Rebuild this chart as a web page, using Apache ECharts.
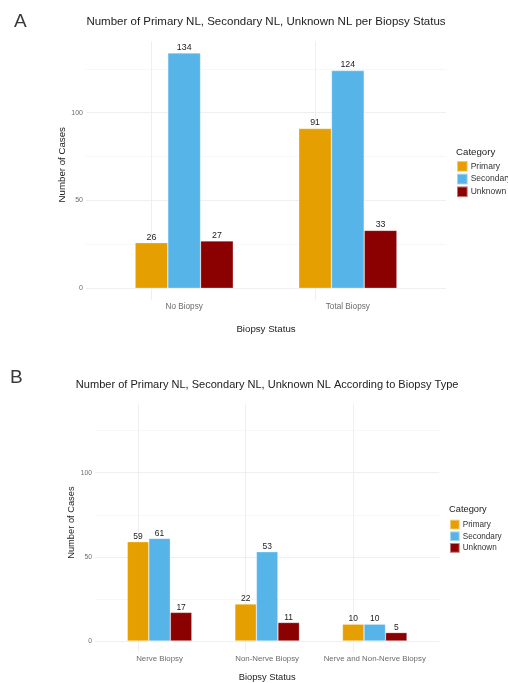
<!DOCTYPE html>
<html>
<head>
<meta charset="utf-8">
<script src="https://cdn.jsdelivr.net/npm/echarts@6/dist/echarts.min.js"></script>
<style>
  html, body { margin: 0; padding: 0; background: #ffffff; }
  #chart { width: 508px; height: 683px; }
</style>
</head>
<body>
<div id="chart"></div>
<script>
// ---- data ----
const seriesNames = ['Primary', 'Secondary', 'Unknown'];
const statusCategories = ['No Biopsy', 'Total Biopsy'];
const statusPrimary = [26, 91];
const statusSecondary = [134, 124];
const statusUnknown = [27, 33];
const typeCategories = ['Nerve Biopsy', 'Non-Nerve Biopsy', 'Nerve and Non-Nerve Biopsy'];
const typePrimary = [59, 22, 10];
const typeSecondary = [61, 53, 10];
const typeUnknown = [17, 11, 5];
const yTickStep = 25;
const yLabelStep = 50;

// ---- styling ----
const colors = { Primary: '#E69F00', Secondary: '#56B4E9', Unknown: '#8B0000' };
const FONT = 'Liberation Sans, Arial, Helvetica, sans-serif';
const majorGrid = '#ebebeb';
const minorGrid = '#f5f5f5';

// Shared y range: data max plus 5% headroom above and below zero.
const allValues = [].concat(statusPrimary, statusSecondary, statusUnknown, typePrimary, typeSecondary, typeUnknown);
const yMax = Math.max.apply(null, allValues) * 1.05;
const yPad = Math.max.apply(null, allValues) * 0.05;

// Panel geometry: plot rectangle in pixels, the zero line and a text scale.
const panels = [
  { cats: statusCategories, vals: [statusPrimary, statusSecondary, statusUnknown],
    left: 86, right: 446, zeroY: 288.3, pxPerUnit: 1.756, fs: 1,
    tag: 'A', tagX: 14, tagY: 12, title: 'Number of Primary NL, Secondary NL, Unknown NL per Biopsy Status', titleY: 16,
    legendX: 456, legendTitleY: 147, legendY: 160, keySize: 10.7, xNameGap: 24, yNameGap: 19 },
  { cats: typeCategories, vals: [typePrimary, typeSecondary, typeUnknown],
    left: 95, right: 439.3, zeroY: 641, pxPerUnit: 1.683, fs: 0.96,
    tag: 'B', tagX: 10, tagY: 368, title: 'Number of Primary NL, Secondary NL, Unknown NL According to Biopsy Type', titleY: 379,
    legendX: 449, legendTitleY: 505, legendY: 518.7, keySize: 9.7, xNameGap: 21, yNameGap: 19 }
];

const grid = [], xAxis = [], yAxis = [], series = [], title = [], legend = [];

panels.forEach(function (p, pi) {
  const n = p.cats.length;
  const unit = (p.right - p.left) / (n + 0.2);       // discrete scale with 0.6 expansion on each side
  const top = p.zeroY - yMax * p.pxPerUnit;
  const bottom = p.zeroY + yPad * p.pxPerUnit;
  const f = function (size) { return size * p.fs; };
  const wideIdx = grid.length;
  // wide grid: horizontal gridlines and y tick labels
  grid.push({ left: p.left, width: p.right - p.left, top: top, height: p.zeroY - top,
    containLabel: false, outerBoundsMode: 'none' });
  // narrow grid: bars, aligned so category centres fall at the dodge positions
  const narrowIdx = grid.length;
  grid.push({ left: p.left + 0.1 * unit, width: n * unit, top: top, height: bottom - top,
    containLabel: false, outerBoundsMode: 'none' });

  xAxis.push({ gridIndex: wideIdx, type: 'value', show: false, min: 0, max: 1 });
  yAxis.push({
    gridIndex: wideIdx, type: 'value', min: 0, max: yMax, interval: yTickStep,
    axisLine: { show: false }, axisTick: { show: false },
    axisLabel: {
      showMaxLabel: false, margin: 3, color: '#6b6b6b', fontFamily: FONT, fontSize: f(7),
      formatter: function (v) { return v % yLabelStep === 0 ? String(v) : ''; }
    },
    splitLine: { show: true, showMaxLine: false, lineStyle: { color: [majorGrid, minorGrid], width: 0.8 } },
    name: 'Number of Cases', nameLocation: 'middle', nameRotate: 90, nameGap: p.yNameGap,
    nameMoveOverlap: false,
    nameTextStyle: { color: '#222', fontFamily: FONT, fontSize: f(9.7) }
  });

  xAxis.push({
    gridIndex: narrowIdx, type: 'category', data: p.cats, boundaryGap: true,
    axisLine: { show: false }, axisTick: { show: false }, splitLine: { show: false },
    axisLabel: { margin: 3, color: '#6b6b6b', fontFamily: FONT, fontSize: f(8.2), interval: 0 },
    name: 'Biopsy Status', nameLocation: 'middle', nameGap: p.xNameGap,
    nameMoveOverlap: false,
    nameTextStyle: { color: '#222', fontFamily: FONT, fontSize: f(9.7) }
  });
  yAxis.push({ gridIndex: narrowIdx, type: 'value', show: false, min: -yPad, max: yMax,
    splitLine: { show: false } });

  seriesNames.forEach(function (name, si) {
    const s = {
      type: 'bar', name: name,
      xAxisIndex: narrowIdx, yAxisIndex: narrowIdx,
      data: p.vals[si], barWidth: 0.2 * unit, barGap: '0%',
      itemStyle: { color: colors[name], borderColor: 'rgba(255,255,255,0.45)', borderWidth: 0.6 },
      label: { show: true, position: 'top', distance: 1, color: '#222', fontFamily: FONT, fontSize: f(8.8) },
      emphasis: { disabled: true }
    };
    if (si === 0) {
      // vertical gridlines through each category centre, behind the bars
      s.markLine = {
        silent: true, symbol: 'none', z: 1, animation: false,
        label: { show: false },
        lineStyle: { color: majorGrid, type: 'solid', width: 0.8 },
        data: p.cats.map(function (c) { return { xAxis: c }; })
      };
    }
    series.push(s);
  });

  title.push({ text: p.tag, left: p.tagX, top: p.tagY, padding: 0,
    textStyle: { fontFamily: FONT, fontSize: 19, fontWeight: 'normal', color: '#3a3a3a' } });
  title.push({ text: p.title, left: (p.left + p.right) / 2, top: p.titleY, textAlign: 'center', padding: 0,
    textStyle: { fontFamily: FONT, fontSize: f(11.5), fontWeight: 'normal', color: '#222' } });
  title.push({ text: 'Category', left: p.legendX, top: p.legendTitleY, padding: 0,
    textStyle: { fontFamily: FONT, fontSize: f(9.7), fontWeight: 'normal', color: '#222' } });

  legend.push({
    data: seriesNames, orient: 'vertical', left: p.legendX, top: p.legendY, padding: 0,
    itemWidth: p.keySize, itemHeight: p.keySize, itemGap: 0, icon: 'rect',
    selectedMode: false,
    textStyle: { fontFamily: FONT, fontSize: f(8.5), color: '#333', padding: [0, 0, 0, -2] }
  });
});

const chart = echarts.init(document.getElementById('chart'), null, { renderer: 'canvas' });
chart.setOption({
  animation: false,
  backgroundColor: '#ffffff',
  title: title, legend: legend, grid: grid, xAxis: xAxis, yAxis: yAxis, series: series
});
</script>
</body>
</html>
